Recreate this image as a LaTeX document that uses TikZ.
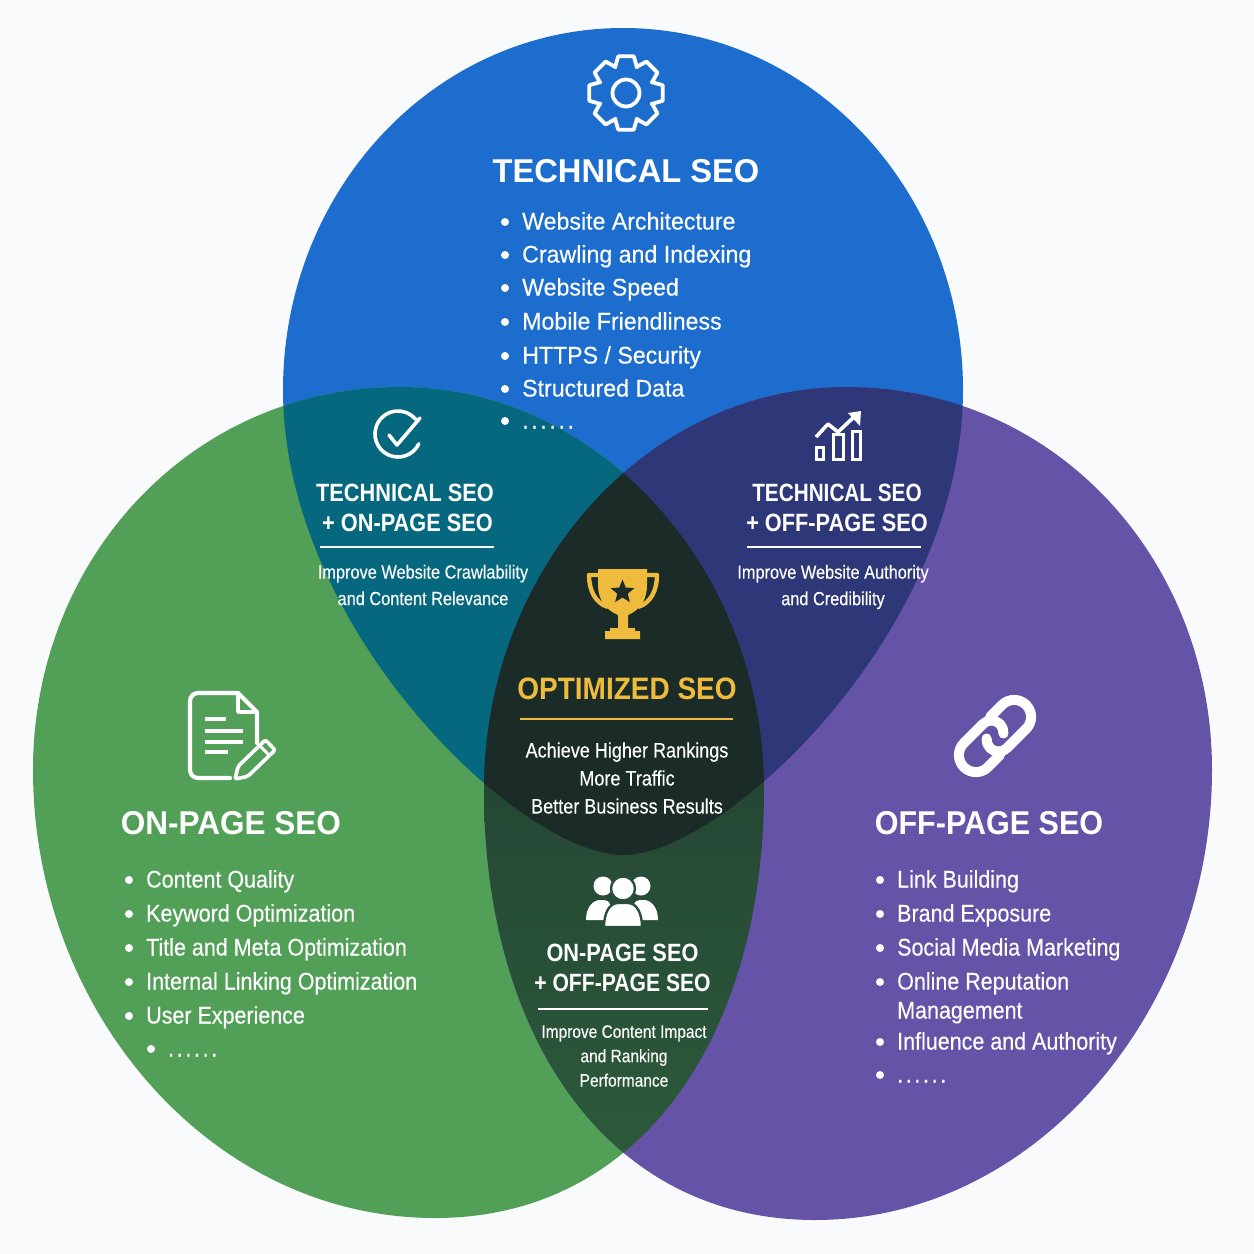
\documentclass[tikz,border=0pt]{standalone}
\usepackage{fontspec}
\setmainfont{Liberation Sans}
\newfontfamily\titlefont[FakeStretch=.99]{Liberation Sans}
\newfontfamily\pairfont[FakeStretch=.87]{Liberation Sans}
\newfontfamily\itemfont[FakeStretch=.965,FakeBold=.25]{Liberation Sans}
\newfontfamily\sidefont[FakeStretch=.895,FakeBold=.25]{Liberation Sans}
\newfontfamily\smallfont[FakeStretch=.86,FakeBold=.15]{Liberation Sans}

\definecolor{pagebg}{HTML}{F9FAFB}
\definecolor{techblue}{HTML}{1C6DCE}
\definecolor{onpagegreen}{HTML}{52A058}
\definecolor{offpagepurple}{HTML}{6553A7}
\definecolor{techon}{HTML}{05687F}
\definecolor{techoff}{HTML}{2E3778}
\definecolor{onofftop}{HTML}{254736}
\definecolor{onoffbottom}{HTML}{2C5A3A}
\definecolor{onoff}{HTML}{2A4F3A}
\definecolor{allthree}{HTML}{1A2B28}
\definecolor{trophygold}{HTML}{EFBB3C}

\newcommand{\techblob}{(283,390) .. controls (283,190) and (435,28) .. (623,28)
  .. controls (811,28) and (963,190) .. (963,390)
  .. controls (963,630) and (725,855) .. (623,855)
  .. controls (521,855) and (283,630) .. (283,390) -- cycle}
\newcommand{\onblob}{(33,770) .. controls (33,560) and (190,387) .. (400,387)
  .. controls (600,387) and (764,570) .. (764,790)
  .. controls (764,1033) and (643,1218) .. (435,1218)
  .. controls (210,1218) and (33,1010) .. (33,770) -- cycle}
\newcommand{\offblob}{(1212,770) .. controls (1212,560) and (1056,387) .. (846,387)
  .. controls (646,387) and (484,570) .. (484,790)
  .. controls (484,1033) and (605,1220) .. (815,1220)
  .. controls (1036,1220) and (1212,1010) .. (1212,770) -- cycle}

\begin{document}
\begin{tikzpicture}[x=1pt,y=-1pt,
    title node/.style={text=white,align=center,font=\titlefont\bfseries\fontsize{33}{33}\selectfont},
    pair node/.style={text=white,align=center,font=\pairfont\bfseries\fontsize{25}{30.5}\selectfont},
    note node/.style={text=white,align=center,font=\smallfont\fontsize{19}{26.5}\selectfont},
    item node/.style={text=white,anchor=west,text height=20pt,text depth=5pt,inner xsep=0pt,inner ysep=0pt,font=\itemfont\fontsize{24}{24}\selectfont},
    side node/.style={item node,font=\sidefont\fontsize{24}{24}\selectfont},
    rule line/.style={draw=white,line width=1.6pt},
    icon line/.style={draw=white,line width=3.6pt,line join=round,line cap=round}]

  \useasboundingbox (0,0) rectangle (1254,1254);
  \fill[pagebg] (0,0) rectangle (1254,1254);

  % the three circles, then their overlaps
  \fill[techblue] \techblob;
  \fill[onpagegreen] \onblob;
  \fill[offpagepurple] \offblob;
  \begin{scope}
    \clip \onblob;
    \fill[techon] \techblob;
  \end{scope}
  \begin{scope}
    \clip \offblob;
    \fill[techoff] \techblob;
  \end{scope}
  \begin{scope}
    \clip \onblob;
    \clip \offblob;
    \shade[top color=onofftop,bottom color=onoffbottom] (400,780) rectangle (850,1160);
    \fill[allthree] \techblob;
  \end{scope}

  % top circle
  \begin{scope}[shift={(626,93)}]
    \draw[icon line,line width=3.8pt] (-23:28pt) \foreach \a in {0,45,...,315}{
        -- ({\a-23}:28pt) -- ({\a-12}:37.5pt) -- ({\a+12}:37.5pt) -- ({\a+23}:28pt)} -- cycle;
    \draw[icon line,line width=3.8pt] (0,0) circle (13.5pt);
  \end{scope}

  \node[title node] (tech) at (626,171) {TECHNICAL SEO};
  \node[item node] (t1) at (522,222) {Website Architecture};
  \node[item node] (t2) at (522,255) {Crawling and Indexing};
  \node[item node] (t3) at (522,288) {Website Speed};
  \node[item node] (t4) at (522,322) {Mobile Friendliness};
  \node[item node] (t5) at (522,356) {HTTPS / Security};
  \node[item node] (t6) at (522,389) {Structured Data};
  \node[item node] (t7) at (522,421) {\addfontfeature{LetterSpace=11}......};

  % left circle
  \draw[icon line,line width=4.2pt,rounded corners=8pt] (230,778) -- (190,778) -- (190,693) -- (238,693);
  \draw[icon line,line width=4.2pt] (238,693) -- (257,712) -- (257,743);
  \draw[icon line,line width=3.4pt] (238,694) -- (238,712) -- (256,712);
  \draw[draw=white,line width=3.8pt] (205,719) -- (226,719) (205,731) -- (243,731)
    (205,742) -- (243,742) (205,752) -- (228,752);
  \begin{scope}[shift={(235,779)},rotate=44]
    \draw[icon line,line width=3.6pt,rounded corners=2pt] (0,0) -- (11pt,7pt) -- (49pt,7pt)
      -- (49pt,-7pt) -- (11pt,-7pt) -- cycle;
    \draw[icon line,line width=3pt] (41pt,7pt) -- (41pt,-7pt);
  \end{scope}

  \node[title node] (onpage) at (231,823) {{\addfontfeature{FakeStretch=.955}ON-PAGE SEO}};
  \node[side node] (l1) at (146,880) {Content Quality};
  \node[side node] (l2) at (146,914) {Keyword Optimization};
  \node[side node] (l3) at (146,948) {Title and Meta Optimization};
  \node[side node] (l4) at (146,982) {Internal Linking Optimization};
  \node[side node] (l5) at (146,1016) {User Experience};
  \node[side node] (l6) at (168,1049) {\addfontfeature{LetterSpace=11}......};

  % right circle
  \begin{scope}[shift={(995,736)}]
    \foreach \r in {45,225}
      \draw[icon line,line width=10pt,rotate=\r] (10pt,17pt) -- (27pt,17pt) arc (90:-90:17pt)
        -- (0,-17pt) arc (-90:-230:12pt);
  \end{scope}

  \node[title node] (offpage) at (989,823) {{\addfontfeature{FakeStretch=.925}OFF-PAGE SEO}};
  \node[side node] (r1) at (897,880) {Link Building};
  \node[side node] (r2) at (897,914) {Brand Exposure};
  \node[side node] (r3) at (897,948) {Social Media Marketing};
  \node[side node] (r4) at (897,982) {Online Reputation};
  \node[side node] (r4b) at (897,1011) {Management};
  \node[side node] (r5) at (897,1042) {Influence and Authority};
  \node[side node] (r6) at (897,1075) {\addfontfeature{LetterSpace=11}......};

  % bullets
  \foreach \n in {t1,t2,t3,t4,t5,t6,t7,l1,l2,l3,l4,l5,l6,r1,r2,r3,r4,r5,r6}
    \fill[white] ([xshift=-17pt]\n.west) circle (4pt);

  % technical + on-page
  \draw[icon line] (398,434) ++(-25:23pt) arc (-25:-320:23pt);
  \draw[icon line] (389,435) -- (397,445) -- (420,418);
  \node[pair node] (techonpage) at (405,508) {TECHNICAL SEO\\\hspace*{5pt}+ ON-PAGE SEO};
  \draw[rule line] (320,547) -- (494,547);
  \node[note node] (techonnote) at (423,585) {Improve Website Crawlability\\and Content Relevance};

  % technical + off-page
  \draw[draw=white,line width=3pt] (816,459) rectangle (823,447)
    (833,459) rectangle (843,434) (852,459) rectangle (860,431);
  \draw[draw=white,line width=3.6pt,line join=round] (816,437) -- (828,424) -- (838,432) -- (855,416);
  \fill[white] (861,411) -- (848,413) -- (860,426) -- cycle;
  \node[pair node] (techoffpage) at (837,508) {{\addfontfeature{FakeStretch=.83}TECHNICAL SEO}\\+ OFF-PAGE SEO};
  \draw[rule line] (747,547) -- (921,547);
  \node[note node] (techoffnote) at (833,587) {Improve Website Authority\\and Credibility};

  % middle
  \draw[draw=trophygold,line width=4.4pt,line join=round] (600,575) -- (589,575)
    .. controls (589,590) and (595,603) .. (608,607);
  \draw[draw=trophygold,line width=4.4pt,line join=round] (645,575) -- (657,575)
    .. controls (657,590) and (651,603) .. (638,607);
  \fill[trophygold] (598,569) -- (647,569) -- (647,585)
    .. controls (647,600) and (640,610) .. (628,615) -- (628,628) -- (635,628) -- (635,631)
    -- (640,631) -- (640,639) -- (605,639) -- (605,631) -- (610,631) -- (610,628) -- (618,628)
    -- (618,615) .. controls (606,610) and (598,600) .. (598,585) -- cycle;
  \begin{scope}[shift={(622.5,592)}]
    \fill[allthree] (90:12.5pt) \foreach \a in {90,162,234,306,378}{
        -- (\a:12.5pt) -- ({\a+36}:5.5pt)} -- cycle;
  \end{scope}
  \node[title node,text=trophygold,font=\pairfont\bfseries\addfontfeature{FakeStretch=.903}\fontsize{31}{31}\selectfont] (optimized) at (627,689) {OPTIMIZED SEO};
  \draw[rule line,draw=trophygold,line width=2pt] (520,719) -- (733,719);
  \node[note node,font=\smallfont\fontsize{21}{28}\selectfont] (optimizednote) at (627,778) {Achieve Higher Rankings\\More Traffic\\Better Business Results};

  % on-page + off-page
  \fill[white] (603,886) circle (9.5pt);
  \fill[white] (641,886) circle (9.5pt);
  \fill[white] (586,920) .. controls (586,906) and (594,900) .. (600,900) -- (604,900)
    .. controls (610,900) and (612,906) .. (612,920) -- cycle;
  \fill[white] (658,920) .. controls (658,906) and (650,900) .. (644,900) -- (640,900)
    .. controls (634,900) and (632,906) .. (632,920) -- cycle;
  \filldraw[white,draw=onoff,line width=2.4pt] (623,888.5) circle (12pt);
  \filldraw[white,draw=onoff,line width=2.4pt] (604,927) .. controls (604,912) and (610,903) .. (618,903)
    -- (628,903) .. controls (636,903) and (642,912) .. (642,927) -- cycle;
  \node[pair node] (onoffpage) at (622.5,968) {ON-PAGE SEO\\{\addfontfeature{FakeStretch=.845}+ OFF-PAGE SEO}};
  \draw[rule line] (538,1009) -- (708,1009);
  \node[note node,font=\smallfont\fontsize{18}{24.4}\selectfont] (onoffnote) at (624,1056) {Improve Content Impact\\and Ranking\\Performance};
\end{tikzpicture}
\end{document}
